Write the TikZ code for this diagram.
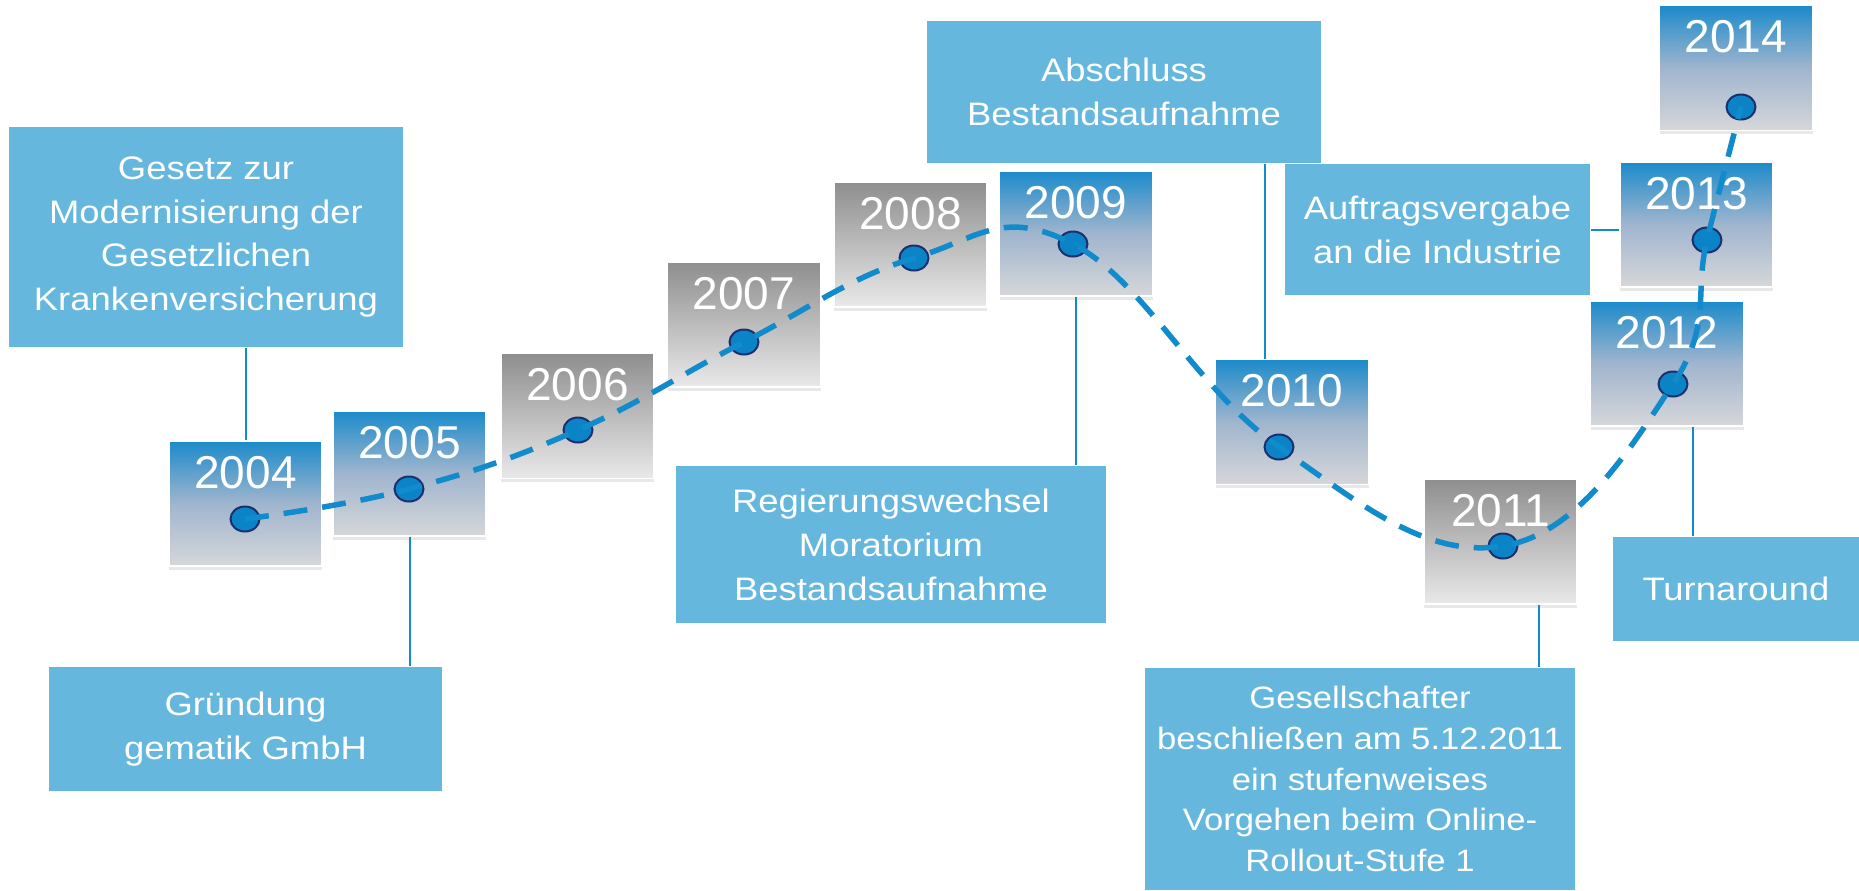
\documentclass[tikz,border=0pt]{standalone}
\usepackage{fontspec}
\setmainfont{Liberation Sans}
\newfontfamily\notefont[FakeStretch=1.12]{Liberation Sans}
\usetikzlibrary{shapes.geometric,shadows}
\definecolor{boxblue}{HTML}{66B7DD}
\definecolor{lineblue}{HTML}{118BCB}
\definecolor{yeartop}{HTML}{1B8BCA}
\definecolor{yearmid}{HTML}{A0B5CE}
\definecolor{yearbot}{HTML}{D6D7D9}
\definecolor{greytop}{HTML}{8E8E8E}
\definecolor{greymid}{HTML}{BCBCBC}
\definecolor{greybot}{HTML}{E9E9E9}
\definecolor{dotfill}{HTML}{0B84C7}
\definecolor{dotrim}{HTML}{1B2F6D}

\begin{document}
\begin{tikzpicture}[x=.1mm,y=-.1mm,
  year/.style={rectangle,minimum width=15.3mm,minimum height=12.5mm,inner sep=0pt,
    text=white,font=\fontsize{13.1pt}{15pt}\selectfont,text height=3.3mm,text depth=6.4mm,
    draw=white,line width=.15mm,drop shadow={shadow xshift=0mm,shadow yshift=-.35mm,opacity=.18}},
  blueyear/.style={year,top color=yeartop,bottom color=yearbot,middle color=yearmid},
  greyyear/.style={year,top color=greytop,bottom color=greybot,middle color=greymid},
  note/.style={rectangle,fill=boxblue,text=white,align=center,inner sep=0pt,
    font=\notefont\fontsize{9.25pt}{12.5pt}\selectfont},
  link/.style={lineblue,line width=.2mm},
  dot/.style={ellipse,minimum width=2.9mm,minimum height=2.5mm,inner sep=0pt,
    fill=dotfill,draw=dotrim,line width=.2mm},
  trend/.style={lineblue,line width=.55mm,dash pattern=on 2.4mm off 1.5mm}]
\fill[white] (0,0) rectangle (1859,890);
\useasboundingbox (0,0) rectangle (1859,890);
% years
\node[blueyear] (y2004) at (245.5,503.5) {2004};
\node[blueyear] (y2005) at (409.5,473.5) {2005};
\node[greyyear] (y2006) at (577.5,416) {2006};
\node[greyyear] (y2007) at (744,324.5) {2007};
\node[greyyear] (y2008) at (910.5,244.5) {2008};
\node[blueyear] (y2009) at (1076,233.5) {2009};
\node[blueyear] (y2010) at (1292,422) {2010};
\node[greyyear] (y2011) at (1500.5,541.5) {2011};
\node[blueyear] (y2012) at (1667,363.5) {2012};
\node[blueyear] (y2013) at (1696.5,224.5) {2013};
\node[blueyear] (y2014) at (1736,68) {2014};
% events
\node[note,minimum width=39.4mm,minimum height=22mm] (l1) at (206,237)
  {Gesetz zur\\Modernisierung der\\Gesetzlichen\\Krankenversicherung};
\node[note,minimum width=39.3mm,minimum height=12.4mm] (l2) at (245.5,729)
  {Gründung\\gematik GmbH};
\node[note,minimum width=43mm,minimum height=15.7mm] (l3) at (891,544.5)
  {Regierungswechsel\\Moratorium\\Bestandsaufnahme};
\node[note,minimum width=39.4mm,minimum height=14.2mm] (l4) at (1124,92)
  {Abschluss\\Bestandsaufnahme};
\node[note,minimum width=30.5mm,minimum height=13.1mm] (l5) at (1437.5,229.5)
  {Auftragsvergabe\\an die Industrie};
\node[note,minimum width=24.6mm,minimum height=10.4mm] (l6) at (1736,589)
  {Turnaround};
\node[note,minimum width=43mm,minimum height=22.2mm,
  font=\notefont\fontsize{8.8pt}{11.6pt}\selectfont] (l7) at (1360,779)
  {Gesellschafter\\beschließen am 5.12.2011\\ein stufenweises\\Vorgehen beim Online-\\Rollout-Stufe 1};
% connectors
\coordinate (c2010) at ([xshift=-2.7mm]y2010.north);
\coordinate (c2011) at ([xshift=3.85mm]y2011.south);
\coordinate (c2012) at ([xshift=2.6mm]y2012.south);
\coordinate (c2013) at ([yshift=-.55mm]y2013.west);
\draw[link] (y2004.north) -- (y2004.north |- l1.south);
\draw[link] (y2005.south) -- (y2005.south |- l2.north);
\draw[link] (y2009.south) -- (y2009.south |- l3.north);
\draw[link] (c2010) -- (c2010 |- l4.south);
\draw[link] (c2011) -- (c2011 |- l7.north);
\draw[link] (c2012) -- (c2012 |- l6.north);
\draw[link] (c2013) -- (c2013 -| l5.east);
% dots and trend
\node[dot] (d2004) at (245,519) {};
\node[dot] (d2005) at (409,489) {};
\node[dot] (d2006) at (578,430) {};
\node[dot] (d2007) at (744,342) {};
\node[dot] (d2008) at (914,258) {};
\node[dot] (d2009) at (1073,244) {};
\node[dot] (d2010) at (1279,447) {};
\node[dot] (d2011) at (1503,546) {};
\node[dot] (d2012) at (1673,384) {};
\node[dot] (d2013) at (1707,240) {};
\node[dot] (d2014) at (1741,107) {};
\draw[trend] plot[smooth,tension=.7] coordinates {(d2004.center) (d2005.center)
  (d2006.center) (d2007.center) (d2008.center) (d2009.center) (d2010.center)
  (d2011.center) (d2012.center) (d2013.center) (d2014.center)};
\end{tikzpicture}
\end{document}
